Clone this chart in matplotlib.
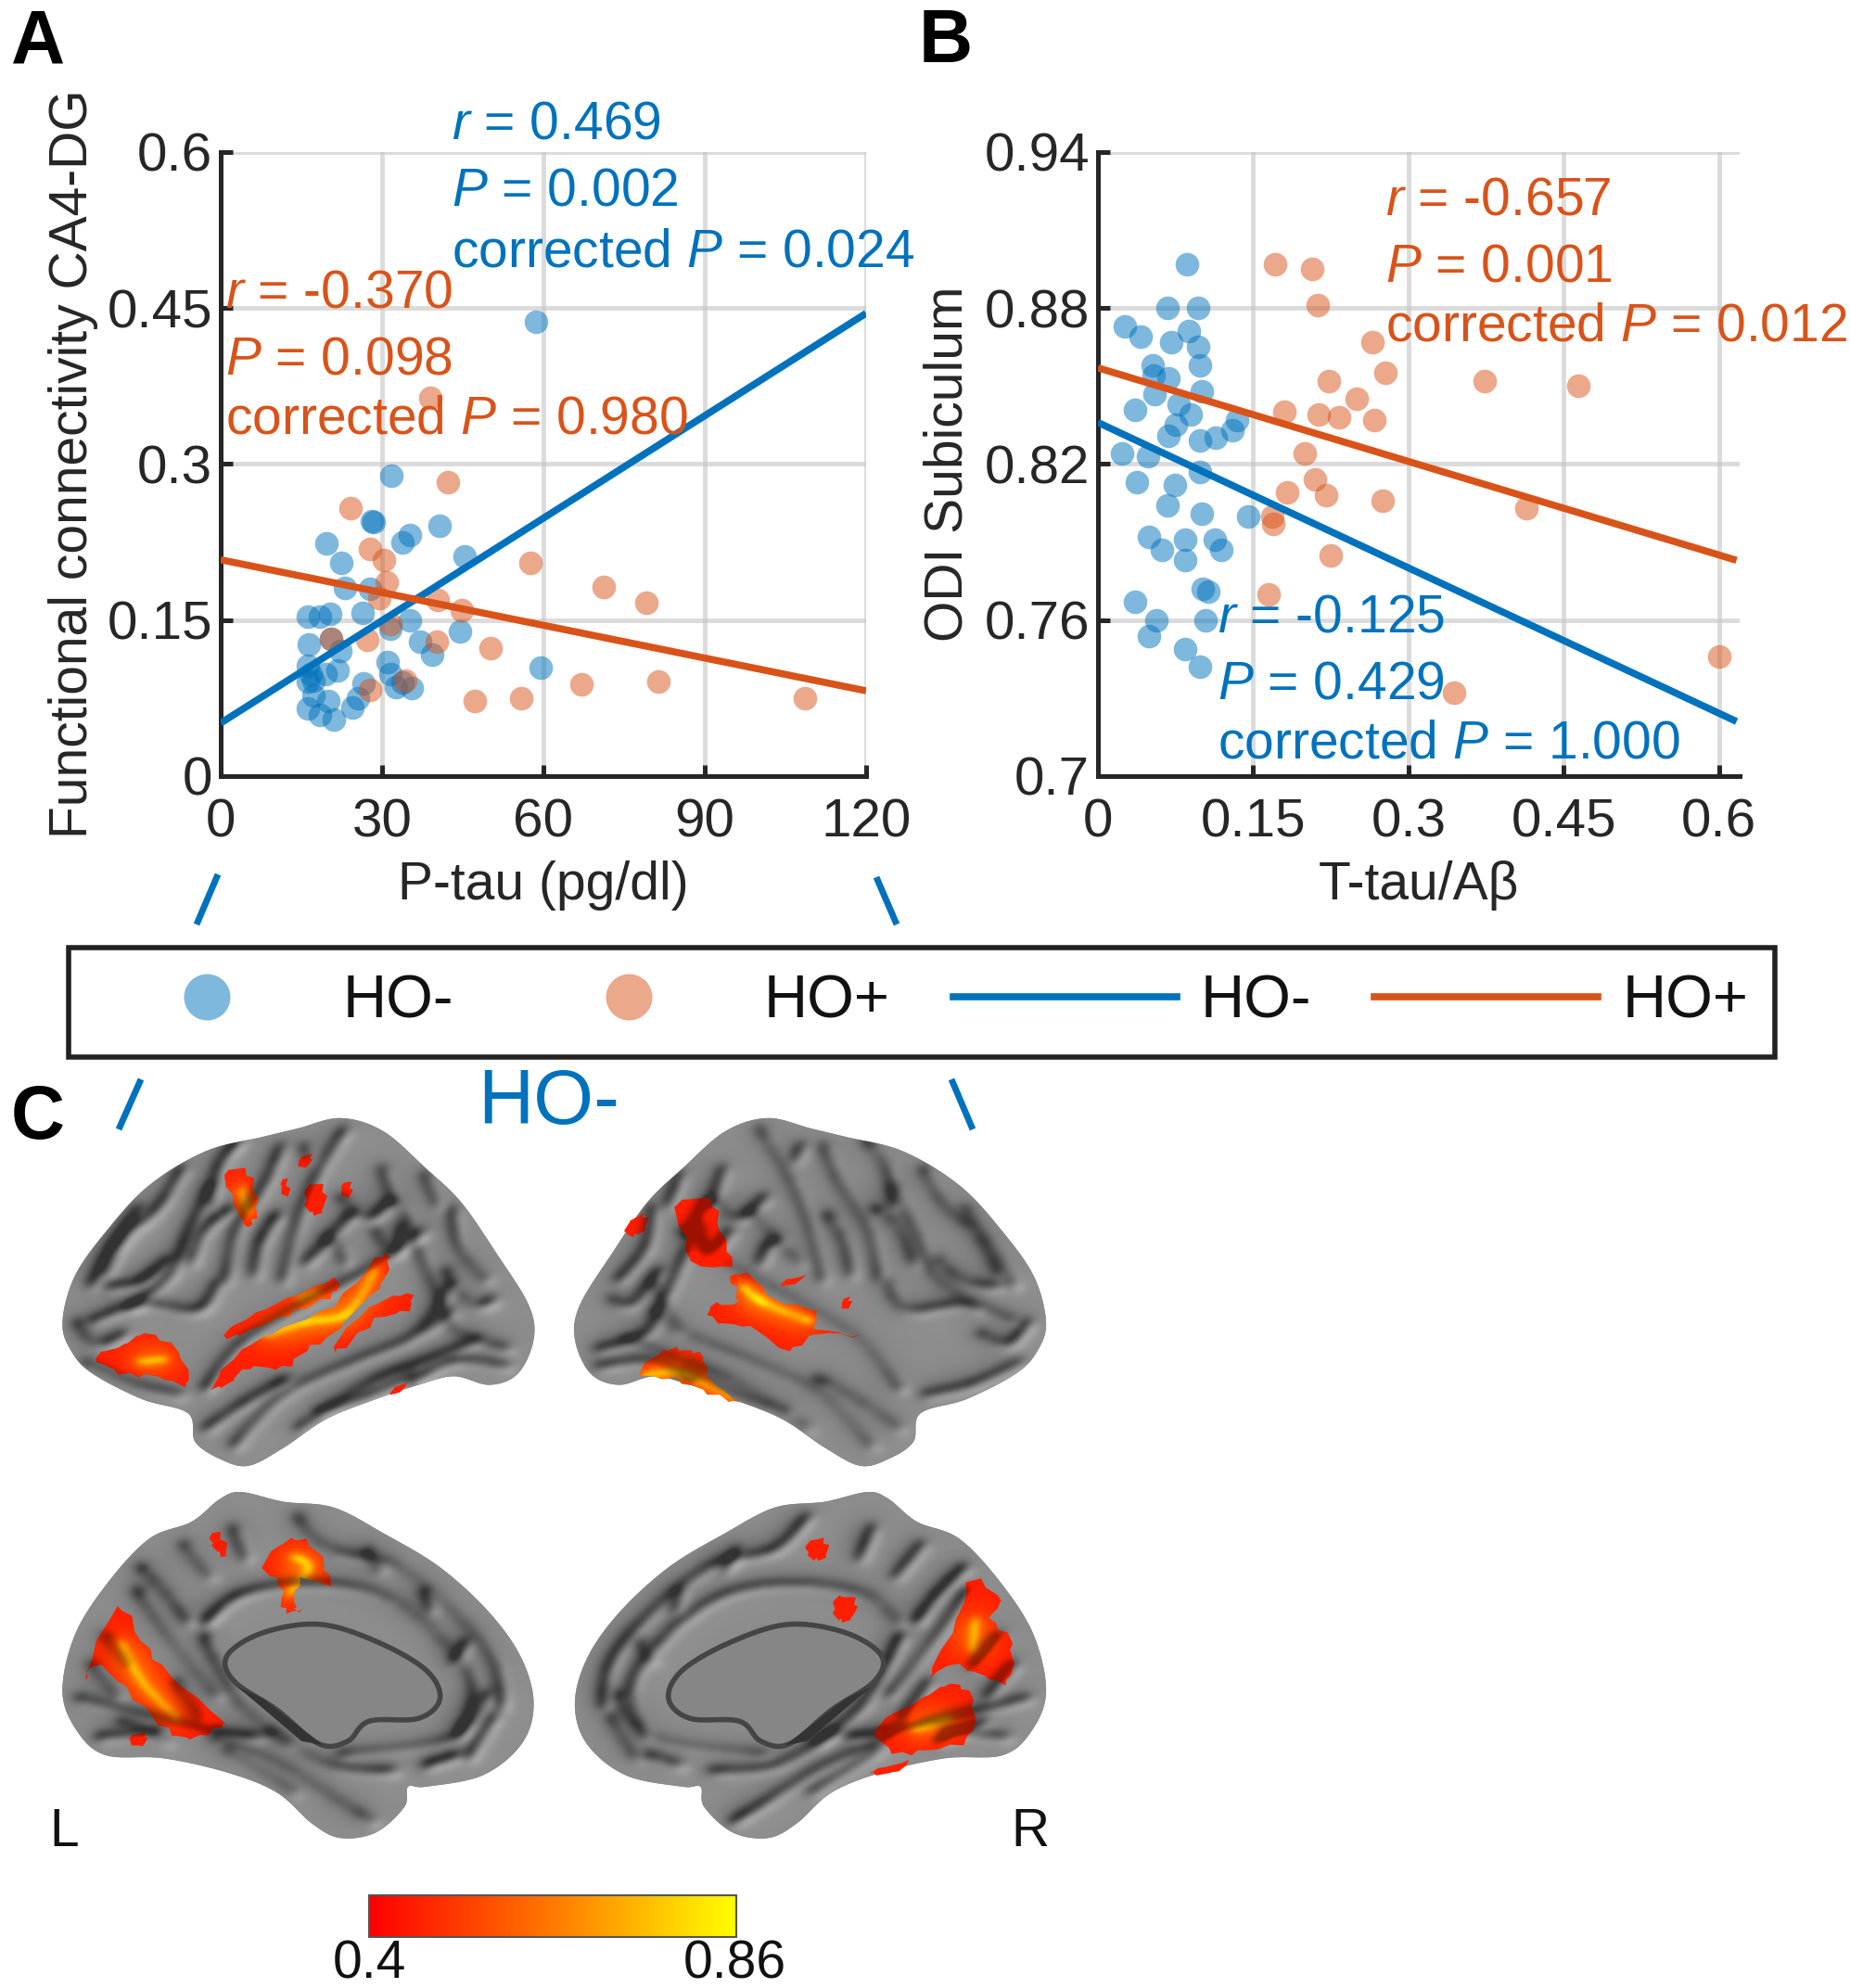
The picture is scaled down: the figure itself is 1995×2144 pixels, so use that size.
import numpy as np
import matplotlib
matplotlib.use('Agg')
import matplotlib.pyplot as plt
from matplotlib.lines import Line2D
from matplotlib.patches import Polygon, Rectangle, PathPatch
from matplotlib.path import Path
from matplotlib.colors import LinearSegmentedColormap

plt.rcParams['font.family'] = ['Liberation Sans', 'DejaVu Sans']
plt.rcParams['mathtext.fontset'] = 'custom'
plt.rcParams['mathtext.rm'] = 'Liberation Sans'
plt.rcParams['mathtext.it'] = 'Liberation Sans:italic'

W, H = 1995, 2144
BLUE = '#0072BD'
ORANGE = '#D95319'
DARK = '#262626'

# ==================== PANEL A DATA ====================
a_neg_x = [58.7, 31.8, 28.1, 28.5, 40.7, 35.2, 33.8, 19.7, 45.3, 22.4, 23.1, 27.7, 26.3, 16.2, 18.4,
           20.4, 35.2, 31.6, 44.4, 16.4, 20.6, 22.2, 37.1, 39.3, 31.0, 16.2, 59.4, 21.7, 16.7, 19.5,
           31.6, 16.2, 17.3, 26.6, 32.5, 35.6, 33.8, 17.3, 20.0, 16.2, 18.4, 21.1, 24.4, 25.5]
a_neg_y = [.437, .289, .245, .244, .241, .232, .225, .224, .211, .205, .181, .180, .157, .153, .153,
           .156, .150, .142, .139, .127, .132, .120, .129, .117, .110, .106, .104, .102, .098, .098,
           .098, .091, .092, .089, .086, .085, .090, .078, .072, .065, .059, .054, .066, .075]
a_pos_x = [38.9, 42.2, 24.1, 27.7, 30.3, 57.6, 30.8, 71.2, 79.2, 29.4, 40.4, 44.8, 31.6, 20.6, 27.2,
           40.2, 50.1, 34.3, 27.7, 47.2, 55.8, 67.0, 81.4, 108.6]
a_pos_y = [.364, .283, .258, .218, .208, .205, .186, .182, .167, .171, .169, .160, .146, .132, .131,
           .129, .123, .092, .083, .072, .075, .088, .091, .075]
a_neg_fit_x = [0, 120]
a_neg_fit_y = [.051, .445]
a_pos_fit_x = [0, 120]
a_pos_fit_y = [.208, .082]
a_xticks = [0, 30, 60, 90, 120]
a_yticks = [0, .15, .3, .45, .6]
a_yticklabels = ['0', '0.15', '0.3', '0.45', '0.6']

# ==================== PANEL B DATA ====================
b_neg_x = [.086, .026, .041, .067, .097, .088, .071, .097, .053, .099, .054, .068, .055, .100, .036,
           .078, .090, .075, .068, .099, .114, .130, .134, .023, .048, .099, .038, .074, .067, .100,
           .145, .049, .084, .113, .119, .062, .084, .101, .107, .036, .056, .104, .049, .084, .099]
b_neg_y = [.897, .873, .869, .880, .880, .871, .867, .865, .858, .858, .854, .853, .847, .848, .841,
           .843, .839, .835, .831, .829, .830, .833, .837, .824, .823, .817, .813, .812, .804, .801,
           .800, .792, .791, .791, .787, .787, .783, .772, .771, .767, .760, .760, .754, .749, .742]
b_pos_x = [.171, .207, .212, .265, .278, .223, .374, .464, .250, .180, .213, .233, .267, .200, .210,
           .183, .220, .275, .414, .168, .169, .225, .165, .600, .344]
b_pos_y = [.897, .895, .881, .867, .855, .852, .852, .850, .845, .840, .839, .838, .837, .824, .814,
           .809, .808, .806, .803, .800, .797, .785, .770, .746, .732]
b_neg_fit_x = [0, .617]
b_neg_fit_y = [.836, .721]
b_pos_fit_x = [0, .617]
b_pos_fit_y = [.857, .783]
b_xticks = [0, .15, .3, .45, .6]
b_xticklabels = ['0', '0.15', '0.3', '0.45', '0.6']
b_yticks = [.7, .76, .82, .88, .94]
b_yticklabels = ['0.7', '0.76', '0.82', '0.88', '0.94']

# ==================== BRAIN SHAPES ====================
# hand traced, coordinates of the brain panel (1568 x 1568 canvas)
lateral_outline = [(480, 42), (540, 65), (600, 130), (650, 190), (700, 280), (745, 370), (752, 430),
                   (730, 490), (690, 510), (640, 495), (590, 510), (530, 535), (460, 570), (400, 620),
                   (350, 652), (310, 640), (275, 610), (265, 560), (200, 535), (130, 490), (100, 450),
                   (88, 400), (105, 320), (150, 240), (210, 160), (290, 100), (370, 75), (420, 60)]
lateral_sulci = [[(320, 330), (335, 240), (375, 160), (400, 90)],
                 [(400, 330), (420, 230), (450, 140), (490, 60)],
                 [(290, 520), (340, 440), (430, 370), (520, 310), (600, 240)],
                 [(330, 620), (400, 530), (500, 470), (590, 420), (640, 330)],
                 [(420, 590), (520, 510), (600, 470), (680, 430)],
                 [(640, 200), (650, 270), (690, 330)],
                 [(590, 270), (620, 350), (650, 420), (720, 450)],
                 [(260, 130), (225, 200), (180, 250), (150, 320)],
                 [(300, 160), (270, 240), (240, 320), (180, 380)],
                 [(130, 400), (200, 370), (280, 380), (310, 330)],
                 [(340, 80), (310, 130), (300, 200)],
                 [(120, 470), (190, 510), (260, 530)],
                 [(480, 180), (520, 220), (560, 190), (590, 260)],
                 [(460, 260), (500, 210)],
                 [(540, 130), (560, 200)],
                 [(580, 510), (640, 470), (720, 480)],
                 [(200, 200), (160, 270), (130, 340)],
                 [(240, 290), (200, 330), (150, 340)],
                 [(110, 400), (140, 440), (180, 420)],
                 [(270, 300), (290, 240), (330, 200)],
                 [(360, 320), (370, 260), (395, 210)],
                 [(430, 300), (470, 260), (490, 300)],
                 [(530, 240), (560, 280), (570, 230)],
                 [(630, 310), (670, 370), (700, 360)],
                 [(600, 140), (620, 200)],
                 [(450, 560), (520, 530), (590, 490)],
                 [(290, 590), (350, 540), (410, 500)],
                 [(640, 380), (600, 420)],
                 [(430, 90), (440, 120)]]
medial_outline = [(340, 698), (400, 715), (470, 725), (540, 770), (620, 830), (690, 910), (735, 990),
                  (752, 1070), (735, 1140), (680, 1195), (600, 1215), (575, 1215), (570, 1250),
                  (530, 1295), (480, 1305), (440, 1280), (390, 1225), (320, 1190), (230, 1165),
                  (150, 1160), (110, 1120), (88, 1050), (105, 950), (150, 860), (210, 780), (270, 750),
                  (310, 710)]
medial_wall = [(320, 985), (370, 945), (450, 930), (530, 960), (600, 1010), (620, 1060), (590, 1095),
               (520, 1100), (490, 1135), (450, 1140), (390, 1080), (330, 1030)]
medial_wedge = [(335, 1040), (370, 1060), (455, 1142), (425, 1135)]
medial_sulci = [[(290, 930), (340, 880), (440, 860), (540, 880), (620, 950), (670, 1040), (650, 1130)],
                [(260, 790), (300, 850)],
                [(420, 740), (470, 800), (560, 830), (650, 920), (700, 1000), (710, 1080)],
                [(195, 870), (240, 950), (310, 1060)],
                [(110, 1060), (200, 1090), (300, 1120), (370, 1130)],
                [(150, 950), (190, 1010)],
                [(140, 1130), (230, 1120)],
                [(300, 1130), (400, 1180), (490, 1250), (530, 1280)],
                [(380, 1120), (470, 1180), (560, 1190)],
                [(480, 1160), (640, 1130), (690, 1050)],
                [(200, 830), (240, 880), (270, 930)],
                [(330, 760), (350, 820)],
                [(520, 800), (540, 840)],
                [(600, 870), (610, 910)],
                [(660, 960), (640, 1000)],
                [(700, 1090), (660, 1170)],
                [(600, 1180), (650, 1160)],
                [(130, 1000), (170, 1060)],
                [(170, 1100), (240, 1140)],
                [(320, 1150), (420, 1230)],
                [(250, 1030), (290, 1100)],
                [(290, 950), (310, 1000), (350, 1080), (420, 1150)]]

# (outline, ridge) of each activation cluster
blobs = [
    # lateral left
    ([(300, 510), (340, 450), (400, 410), (470, 370), (530, 290), (548, 285), (540, 330), (500, 380),
      (470, 420), (430, 450), (400, 480), (350, 480), (320, 510)],
     [(370, 425), (430, 400), (490, 385), (530, 305)]),
    ([(315, 420), (360, 385), (440, 340), (475, 325), (470, 350), (430, 375), (380, 400), (330, 425)],
     [(420, 360), (450, 345)]),
    ([(470, 440), (520, 375), (575, 350), (575, 378), (530, 395), (485, 445)], None),
    ([(135, 460), (175, 440), (205, 420), (250, 450), (265, 510), (220, 495), (170, 490)],
     [(195, 470), (235, 465)]),
    ([(315, 140), (345, 132), (360, 175), (360, 215), (345, 230), (325, 175)], [(340, 165), (350, 210)]),
    ([(430, 165), (455, 160), (455, 205), (435, 205)], None),
    ([(395, 155), (405, 150), (405, 185)], None),
    ([(480, 160), (495, 155), (490, 185)], None),
    ([(420, 115), (440, 105), (430, 130)], None),
    ([(550, 520), (575, 505), (560, 525)], None),
    # lateral right
    ([(950, 195), (1000, 185), (1015, 240), (1030, 300), (975, 295), (965, 250)], None),
    ([(880, 235), (905, 210), (910, 235), (890, 248)], None),
    ([(1000, 370), (1040, 365), (1030, 320), (1060, 320), (1090, 360), (1150, 380), (1150, 410),
      (1210, 425), (1150, 420), (1110, 450), (1060, 410), (1010, 400)],
     [(1045, 335), (1075, 365), (1145, 400)]),
    ([(900, 490), (935, 450), (965, 450), (990, 460), (1000, 500), (1040, 540), (1000, 525), (950, 500)],
     [(905, 495), (960, 490), (1035, 535)]),
    ([(1100, 330), (1135, 318), (1115, 335)], None),
    ([(1185, 365), (1198, 355), (1195, 378)], None),
    # medial left
    ([(120, 1020), (165, 900), (200, 960), (240, 1020), (310, 1095), (310, 1110), (270, 1130),
      (235, 1115), (190, 1060), (140, 1000)],
     [(170, 960), (200, 1030), (250, 1095)]),
    ([(370, 825), (410, 780), (445, 800), (465, 860), (425, 850), (415, 900), (425, 905), (400, 905),
      (395, 860)], [(410, 810), (435, 830), (405, 880)]),
    ([(295, 775), (310, 770), (320, 810), (305, 800)], None),
    ([(180, 1130), (205, 1120), (200, 1145)], None),
    # medial right
    ([(1370, 850), (1410, 890), (1395, 920), (1425, 960), (1420, 1030), (1385, 1020), (1340, 1000),
      (1310, 1020), (1350, 920)], [(1375, 920), (1370, 980)]),
    ([(1235, 1110), (1300, 1060), (1340, 1035), (1370, 1060), (1365, 1130), (1310, 1150), (1260, 1155)],
     [(1285, 1115), (1340, 1095)]),
    ([(1135, 790), (1160, 780), (1165, 810), (1145, 815)], None),
    ([(1175, 885), (1205, 885), (1200, 920), (1180, 920)], None),
    ([(1225, 1190), (1280, 1170), (1260, 1190)], None),
]

N = 784  # shading grid, one cell = 2 canvas units
hot = LinearSegmentedColormap.from_list('hot_bar', ['#ff0000', '#ff7a00', '#ffff00'])


def smooth(pts, closed=False, n=14):
    """Catmull-Rom curve through the traced points."""
    p = np.array(pts, dtype=float)
    if closed:
        p = np.vstack([p[-1], p, p[0], p[1]])
    else:
        p = np.vstack([p[0], p, p[-1]])
    out = []
    t = np.linspace(0, 1, n, endpoint=False)[:, None]
    for i in range(1, len(p) - 2):
        a, b, c, d = p[i - 1], p[i], p[i + 1], p[i + 2]
        out.append(0.5 * (2 * b + (c - a) * t + (2 * a - 5 * b + 4 * c - d) * t**2
                          + (3 * b - a - 3 * c + d) * t**3))
    return np.vstack(out)


def mirror(pts):
    return [(1562 - x, y) for x, y in pts]


def blur(arr, sigma):
    fy = np.fft.fftfreq(arr.shape[0])[:, None]
    fx = np.fft.rfftfreq(arr.shape[1])[None, :]
    g = np.exp(-2 * np.pi**2 * sigma**2 * (fx**2 + fy**2))
    return np.fft.irfft2(np.fft.rfft2(arr) * g, s=arr.shape)


def raster_lines(curves):
    arr = np.zeros((N, N))
    for s in curves:
        c = smooth(s, n=40)
        arr[(c[:, 1] / 2).astype(int), (c[:, 0] / 2).astype(int)] = 1
    return arr


def fold_shading(curves):
    """Grey level of the folded surface: dark grooves, lit upper-left walls."""
    lines = raster_lines(curves)
    h = blur(lines, 4.2)
    h = h / h.max() + .6 * blur(lines, 10) / blur(lines, 10).max()
    gy, gx = np.gradient(h)
    return np.clip(.55 - .2 * h - 1.5 * (gx + gy), .2, .66)


def draw_brain(ax, outline, sulci, flip=False):
    if flip:
        outline = mirror(outline)
        sulci = [mirror(s) for s in sulci]
    pts = smooth(outline, closed=True)
    patch = Polygon(pts, closed=True, fc='#7f7f7f', ec='none', zorder=2)
    ax.add_patch(patch)
    shade = fold_shading(sulci)
    im = ax.imshow(shade, cmap='gray', vmin=0, vmax=1, extent=[0, 1568, 1568, 0],
                   aspect='auto', interpolation='bilinear', zorder=3)
    im.set_clip_path(patch)
    return shade


def scatter_panel(ax, nx, ny, px, py, nfx, nfy, pfx, pfy):
    ax.scatter(nx, ny, s=340, color=BLUE, alpha=.5, linewidths=0, zorder=3, clip_on=False)
    ax.scatter(px, py, s=340, color=ORANGE, alpha=.5, linewidths=0, zorder=3, clip_on=False)
    ax.plot(nfx, nfy, color=BLUE, lw=5.5, zorder=4, solid_capstyle='butt')
    ax.plot(pfx, pfy, color=ORANGE, lw=5.5, zorder=4, solid_capstyle='butt')
    ax.grid(True, color='#c4c4c4', lw=3.5, alpha=.6)
    ax.set_axisbelow(True)
    for side in ['top', 'right']:
        ax.spines[side].set_visible(False)
    for side in ['left', 'bottom']:
        ax.spines[side].set_linewidth(3.6)
        ax.spines[side].set_color(DARK)
    ax.tick_params(direction='in', length=9, width=3.6, colors=DARK, labelsize=42)
    ax.tick_params(axis='x', pad=17)
    ax.tick_params(axis='y', pad=6.5)


fig = plt.figure(figsize=(W / 100, H / 100), dpi=100)


def axes_px(left, top, right, bottom):
    return fig.add_axes([left / W, 1 - bottom / H, (right - left) / W, (bottom - top) / H])


# ==================== PANELS A AND B ====================
ax_a = axes_px(238, 164, 934, 837)
scatter_panel(ax_a, a_neg_x, a_neg_y, a_pos_x, a_pos_y, a_neg_fit_x, a_neg_fit_y, a_pos_fit_x, a_pos_fit_y)
ax_a.set_xlim(0, 120)
ax_a.set_ylim(0, .6)
ax_a.set_xticks(a_xticks)
ax_a.set_yticks(a_yticks)
ax_a.set_yticklabels(a_yticklabels)
ax_a.set_xlabel('P-tau (pg/dl)', fontsize=41, color=DARK, labelpad=10)
ax_a.set_ylabel('Functional connectivity CA4-DG', fontsize=41, color=DARK, va='center')
ax_a.yaxis.set_label_coords((79 - 238) / 696, .5)

ax_b = axes_px(1184, 164, 1876, 837)
scatter_panel(ax_b, b_neg_x, b_neg_y, b_pos_x, b_pos_y, b_neg_fit_x, b_neg_fit_y, b_pos_fit_x, b_pos_fit_y)
ax_b.set_xlim(0, .62)
ax_b.set_ylim(.7, .94)
ax_b.set_xticks(b_xticks)
ax_b.set_xticklabels(b_xticklabels)
ax_b.set_yticks(b_yticks)
ax_b.set_yticklabels(b_yticklabels)
ax_b.set_xlabel('T-tau/A\u03b2', fontsize=41, color=DARK, labelpad=10)
ax_b.set_ylabel('ODI Subiculum', fontsize=41, color=DARK, va='center')
ax_b.yaxis.set_label_coords((1023 - 1184) / 692, .5)

# ==================== BRAIN PANEL ====================
ax_c = axes_px(0, 1180, 1200, 2144)
ax_c.axis('off')
shades = [draw_brain(ax_c, lateral_outline, lateral_sulci),
          draw_brain(ax_c, lateral_outline, lateral_sulci, flip=True),
          draw_brain(ax_c, medial_outline, medial_sulci),
          draw_brain(ax_c, medial_outline, medial_sulci, flip=True)]

for flip in [False, True]:
    wall = smooth(mirror(medial_wall) if flip else medial_wall, closed=True)
    wedge = mirror(medial_wedge) if flip else medial_wedge
    ax_c.add_patch(Polygon(wall, closed=True, fc='#868686', ec='#454545', lw=4, zorder=5))
    ax_c.add_patch(Polygon(wedge, closed=True, fc='#333333', ec='none', zorder=5))

# activation: red edge to yellow core, darkened by the folds under it
ridges = np.zeros((N, N))
blob_paths = []
for outline, ridge in blobs:
    c = smooth(outline, closed=True, n=4)
    i = np.arange(len(c))
    c = c + np.c_[3.5 * np.sin(i * 2.3), 3.5 * np.cos(i * 3.7)]
    blob_paths.append(Path(np.vstack([c, c[0]]), closed=True))
    if ridge is not None:
        ridges += raster_lines([ridge])
glow = blur(ridges, 3)
glow = np.clip(.12 + .42 * glow / glow.max() + .32 * blur(ridges, 11) / blur(ridges, 11).max(), 0, 1)
folds = np.minimum.reduce([blur(s, 1) for s in shades])
rgb = hot(glow)[:, :, :3] * np.clip(folds / .5, .62, 1.1)[:, :, None]
blob_clip = PathPatch(Path.make_compound_path(*blob_paths), fc='none', ec='none', transform=ax_c.transData)
ax_c.add_patch(blob_clip)
im = ax_c.imshow(np.clip(rgb, 0, 1), extent=[0, 1568, 1568, 0], aspect='auto',
                 interpolation='bilinear', zorder=6)
im.set_clip_path(blob_clip)

ax_c.imshow(np.linspace(0, 1, 256)[None, :], cmap=hot, aspect='auto', extent=[520, 1038, 1478, 1405], zorder=5)
ax_c.add_patch(Rectangle((520, 1405), 518, 73, fill=False, ec='#555555', lw=1.5, zorder=6))
ax_c.set_xlim(0, 1568)
ax_c.set_ylim(1568, 0)
ax_c.text(520, 1527, '0.4', fontsize=41, ha='center', va='center', color='#111111')
ax_c.text(1035, 1527, '0.86', fontsize=41, ha='center', va='center', color='#111111')
ax_c.text(90, 1295, 'L', fontsize=41, ha='center', va='center', color='#111111')
ax_c.text(1452, 1295, 'R', fontsize=41, ha='center', va='center', color='#111111')

# ==================== OVERLAY TEXT ====================
ov = fig.add_axes([0, 0, 1, 1], zorder=10)
ov.set_xlim(0, W)
ov.set_ylim(H, 0)
ov.axis('off')

for x, ys, col, lines in [
    (487, [135, 207, 272], BLUE, [r'$\mathit{r}$ = 0.469', r'$\mathit{P}$ = 0.002', r'corrected $\mathit{P}$ = 0.024']),
    (243, [316, 389, 452], ORANGE, [r'$\mathit{r}$ = -0.370', r'$\mathit{P}$ = 0.098', r'corrected $\mathit{P}$ = 0.980']),
    (1494, [216, 289, 352], ORANGE, [r'$\mathit{r}$ = -0.657', r'$\mathit{P}$ = 0.001', r'corrected $\mathit{P}$ = 0.012']),
    (1313, [667, 739, 803], BLUE, [r'$\mathit{r}$ = -0.125', r'$\mathit{P}$ = 0.429', r'corrected $\mathit{P}$ = 1.000']),
]:
    for y, s in zip(ys, lines):
        ov.text(x, y, s, color=col, fontsize=41, ha='left', va='center')

ov.text(12, 46, 'A', fontsize=58, fontweight='bold', ha='left', va='center', color='black')
ov.text(991, 46, 'B', fontsize=58, fontweight='bold', ha='left', va='center', color='black')
ov.text(12, 1207, 'C', fontsize=58, fontweight='bold', ha='left', va='center', color='black')
ov.text(592, 1190, 'HO-', fontsize=60, ha='center', va='center', color=BLUE)

for xs, ys in [((212, 235), (997, 943)), ((967, 945), (997, 946)),
               ((128, 152), (1218, 1164)), ((1049, 1026), (1218, 1164))]:
    ov.plot(xs, ys, color=BLUE, lw=5, solid_capstyle='butt')

# ==================== LEGEND ====================
handles = [Line2D([], [], ls='none', marker='o', ms=36, mfc=BLUE, mec='none', alpha=.5),
           Line2D([], [], ls='none', marker='o', ms=36, mfc=ORANGE, mec='none', alpha=.5),
           Line2D([], [], color=BLUE, lw=5.5),
           Line2D([], [], color=ORANGE, lw=5.5)]
leg = fig.legend(handles, ['HO-', 'HO+', 'HO-', 'HO+'], ncol=4, loc='center',
                 bbox_to_anchor=(994 / W, 1 - 1081 / H), fontsize=47, numpoints=1,
                 handlelength=3.69, handletextpad=.4, columnspacing=1.04, borderpad=.44,
                 frameon=True, fancybox=False, framealpha=1, edgecolor='#222222', labelcolor='#111111')
leg.get_frame().set_linewidth(4)
leg.set_zorder(20)

fig.savefig('out.png', dpi=100)
